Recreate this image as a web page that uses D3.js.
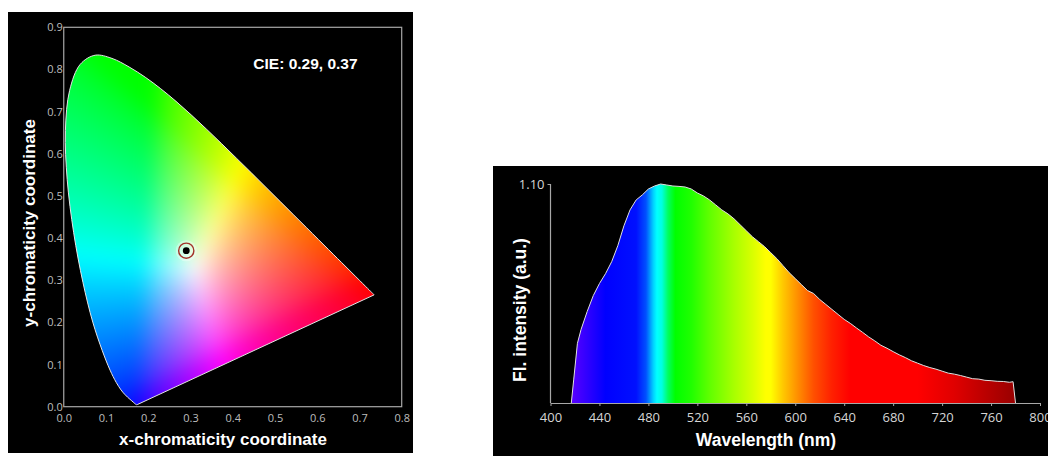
<!DOCTYPE html>
<html>
<head>
<meta charset="utf-8">
<script src="https://cdn.jsdelivr.net/npm/d3@7"></script>
<style>
  html, body { margin: 0; padding: 0; background: #ffffff; }
  svg { display: block; }
</style>
</head>
<body>
<svg id="fig" width="1048" height="456"></svg>
<script>
// ---------- CIE 1931 chromaticity diagram data ----------
// Spectral locus (2° observer), 380–700 nm in 5 nm steps
const locusNm = [380,385,390,395,400,405,410,415,420,425,430,435,440,445,450,455,460,465,470,475,
  480,485,490,495,500,505,510,515,520,525,530,535,540,545,550,555,560,565,570,575,580,585,590,595,
  600,605,610,615,620,625,630,635,640,645,650,655,660,665,670,675,680,685,690,695,700];
const locusX = [0.1741,0.1740,0.1738,0.1736,0.1733,0.1730,0.1726,0.1721,0.1714,0.1703,0.1689,0.1669,
  0.1644,0.1611,0.1566,0.1510,0.1440,0.1355,0.1241,0.1096,0.0913,0.0687,0.0454,0.0235,0.0082,0.0039,
  0.0139,0.0389,0.0743,0.1142,0.1547,0.1929,0.2296,0.2658,0.3016,0.3373,0.3731,0.4087,0.4441,0.4788,
  0.5125,0.5448,0.5752,0.6029,0.6270,0.6482,0.6658,0.6801,0.6915,0.7006,0.7079,0.7140,0.7190,0.7230,
  0.7260,0.7283,0.7300,0.7311,0.7320,0.7327,0.7334,0.7340,0.7344,0.7346,0.7347];
const locusY = [0.0050,0.0050,0.0049,0.0049,0.0048,0.0048,0.0048,0.0048,0.0051,0.0058,0.0069,0.0086,
  0.0109,0.0138,0.0177,0.0227,0.0297,0.0399,0.0578,0.0868,0.1327,0.2007,0.2950,0.4127,0.5384,0.6548,
  0.7502,0.8120,0.8338,0.8262,0.8059,0.7816,0.7543,0.7243,0.6923,0.6589,0.6245,0.5896,0.5547,0.5202,
  0.4866,0.4544,0.4242,0.3965,0.3725,0.3514,0.3340,0.3197,0.3083,0.2993,0.2920,0.2859,0.2809,0.2770,
  0.2740,0.2717,0.2700,0.2689,0.2680,0.2673,0.2666,0.2660,0.2656,0.2654,0.2653];
const cieXTicks = [0.0,0.1,0.2,0.3,0.4,0.5,0.6,0.7,0.8];
const cieYTicks = [0.0,0.1,0.2,0.3,0.4,0.5,0.6,0.7,0.8,0.9];
const sampleCIE = [0.29, 0.37];

// display primaries and white used to colour the diagram (x, y)
const primaryR = [0.70, 0.29];
const primaryG = [0.21, 0.71];
const primaryB = [0.17, 0.012];
const whitePoint = [0.3127, 0.3290];
const displayGamma = 1.6;

// ---------- Emission spectrum data ----------
const wavelengths = [417,419,422,425,430,435,440,445,450,455,460,465,470,475,480,485,490,495,500,505,
  510,515,520,525,530,535,540,545,550,555,560,565,570,575,580,585,590,595,600,605,610,615,620,625,
  630,635,640,645,650,655,660,665,670,675,680,685,690,695,700,705,710,715,720,725,730,735,740,745,
  750,755,760,765,770,775,778,780];
const intensity = [0,0.12,0.30,0.37,0.46,0.54,0.60,0.65,0.71,0.79,0.89,0.97,1.02,1.045,1.075,1.09,
  1.10,1.095,1.09,1.088,1.085,1.075,1.055,1.04,1.02,0.995,0.97,0.95,0.925,0.895,0.865,0.835,0.81,
  0.785,0.755,0.725,0.69,0.655,0.625,0.595,0.565,0.55,0.52,0.495,0.47,0.445,0.42,0.40,0.377,0.355,
  0.332,0.312,0.29,0.275,0.258,0.242,0.228,0.212,0.200,0.188,0.178,0.170,0.160,0.150,0.145,0.138,
  0.130,0.122,0.120,0.114,0.112,0.109,0.108,0.104,0.107,0];
const wlTicks = [400,440,480,520,560,600,640,680,720,760,800];
const intensityTicks = [1.10];
const spectrumNm = [417,430,445,470,478,484,487,491,496,502,515,530,550,565,576,580,590,600,615,630,645,700,730,760,780];
const spectrumColors = ["#5a00ff","#3000ff","#0000ff","#0010ff","#0050ff","#00d0ff","#00ffff","#00ffe0",
  "#00ff60","#00ff00","#20ff00","#60ff00","#a8ff00","#d8ff00","#ffff00","#ffff00","#ffc800","#ff9800",
  "#ff5000","#ff2000","#ff0000","#ff0000","#e00000","#b40000","#980000"];

const svg = d3.select("#fig");
const defs = svg.append("defs");
const tickFont = "'Open Sans', 'Noto Sans', sans-serif";
const titleFont = "'Liberation Sans', Arial, sans-serif";

// ---------- small 3x3 helpers ----------
function inv3(m) {
  const [a, b, c] = m[0], [d, e, f] = m[1], [g, h, i] = m[2];
  const A = e * i - f * h, B = -(d * i - f * g), C = d * h - e * g;
  const det = a * A + b * B + c * C;
  return [
    [A / det, -(b * i - c * h) / det, (b * f - c * e) / det],
    [B / det, (a * i - c * g) / det, -(a * f - c * d) / det],
    [C / det, -(a * h - b * g) / det, (a * e - b * d) / det]
  ];
}
const mul3v = (m, v) => m.map(r => r[0] * v[0] + r[1] * v[1] + r[2] * v[2]);
const xyzOf = ([x, y]) => [x / y, 1, (1 - x - y) / y];

// RGB -> XYZ matrix from the primaries, scaled so RGB (1,1,1) is the white point
const P = [primaryR, primaryG, primaryB].map(xyzOf);
const Pm = [[P[0][0], P[1][0], P[2][0]], [P[0][1], P[1][1], P[2][1]], [P[0][2], P[1][2], P[2][2]]];
const S = mul3v(inv3(Pm), xyzOf(whitePoint));
const rgb2xyz = Pm.map(r => r.map((v, k) => v * S[k]));
const xyz2rgb = inv3(rgb2xyz);

// ================= Left panel: chromaticity diagram =================
svg.append("rect").attr("x", 8).attr("y", 12).attr("width", 405).attr("height", 441).attr("fill", "#000");

const cx = d3.scaleLinear().domain([0, 0.8]).range([63.75, 401.7]);
const cy = d3.scaleLinear().domain([0, 0.9]).range([406.7, 27.3]);

const locus = locusX.map((x, i) => [x, locusY[i]]);
const locusPath = d3.line().x(d => cx(d[0])).y(d => cy(d[1])).curve(d3.curveCatmullRom)(locus) + "Z";

// colour field: chromaticity -> XYZ (Y = 1) -> linear RGB, brightest component set to 1
function chromaToRGB(x, y) {
  if (y <= 0.012) y = 0.012;
  const XYZ = [x / y, 1, Math.max(0, 1 - x - y) / y];
  let [r, g, b] = mul3v(xyz2rgb, XYZ).map(c => Math.max(0, c));
  const m = Math.max(r, g, b) || 1;
  const enc = c => Math.pow(c / m, 1 / displayGamma);
  return [enc(r) * 255, enc(g) * 255, enc(b) * 255];
}

const pad = 30;
const px0 = Math.floor(cx(0)), px1 = Math.ceil(cx(0.8));
const py0 = Math.floor(cy(0.9)), py1 = Math.ceil(cy(0));
const cw = px1 - px0, ch = py1 - py0;
const W = cw + 2 * pad, H = ch + 2 * pad;
const raw = document.createElement("canvas");
raw.width = W; raw.height = H;
const rctx = raw.getContext("2d");
const img = rctx.createImageData(W, H);
for (let j = 0; j < H; j++) {
  const yv = Math.max(0, Math.min(0.9, cy.invert(py0 - pad + j + 0.5)));
  for (let i = 0; i < W; i++) {
    const xv = Math.max(0, Math.min(0.8, cx.invert(px0 - pad + i + 0.5)));
    const [r, g, b] = chromaToRGB(xv, yv);
    const k = (j * W + i) * 4;
    img.data[k] = r; img.data[k + 1] = g; img.data[k + 2] = b; img.data[k + 3] = 255;
  }
}
rctx.putImageData(img, 0, 0);

// soften the transitions between hue sectors
const soft = document.createElement("canvas");
soft.width = cw; soft.height = ch;
const sctx = soft.getContext("2d");
sctx.filter = "blur(9px)";
sctx.drawImage(raw, -pad, -pad);

defs.append("clipPath").attr("id", "gamut").append("path").attr("d", locusPath);

svg.append("image")
  .attr("x", px0).attr("y", py0).attr("width", cw).attr("height", ch)
  .attr("preserveAspectRatio", "none")
  .attr("href", soft.toDataURL())
  .attr("clip-path", "url(#gamut)");

svg.append("path").attr("d", locusPath)
  .attr("fill", "none").attr("stroke", "#e6e6e6").attr("stroke-width", 1);

// frame
svg.append("rect")
  .attr("x", cx(0)).attr("y", cy(0.9))
  .attr("width", cx(0.8) - cx(0)).attr("height", cy(0) - cy(0.9))
  .attr("fill", "none").attr("stroke", "#a8a8a8").attr("stroke-width", 1.2);

const fmt1 = d3.format(".1f");
const xAxisL = svg.append("g").attr("transform", `translate(0,${cy(0)})`)
  .call(d3.axisBottom(cx).tickValues(cieXTicks).tickFormat(fmt1).tickSize(0).tickPadding(8));
const yAxisL = svg.append("g").attr("transform", `translate(${cx(0)},0)`)
  .call(d3.axisLeft(cy).tickValues(cieYTicks).tickFormat(fmt1).tickSize(0).tickPadding(1));
[xAxisL, yAxisL].forEach(g => {
  g.select(".domain").remove();
  g.selectAll("text").attr("fill", "#bdbdbd").style("font-family", tickFont).style("font-size", "11px");
});

// sample point
const mx = cx(sampleCIE[0]), my = cy(sampleCIE[1]);
svg.append("circle").attr("cx", mx).attr("cy", my).attr("r", 10.5).attr("fill", "#ffffff").attr("opacity", 0.35);
svg.append("circle").attr("cx", mx).attr("cy", my).attr("r", 7.6)
  .attr("fill", "none").attr("stroke", "#a3342a").attr("stroke-width", 1.4);
svg.append("circle").attr("cx", mx).attr("cy", my).attr("r", 3.4).attr("fill", "#000");

svg.append("text").attr("x", 305.5).attr("y", 69)
  .attr("text-anchor", "middle").attr("fill", "#fff")
  .style("font-family", titleFont).style("font-weight", "bold").style("font-size", "15.5px")
  .text(`CIE: ${sampleCIE[0].toFixed(2)}, ${sampleCIE[1].toFixed(2)}`);

svg.append("text").attr("x", 223).attr("y", 445)
  .attr("text-anchor", "middle").attr("fill", "#fff")
  .style("font-family", titleFont).style("font-weight", "bold").style("font-size", "17px")
  .text("x-chromaticity coordinate");

svg.append("text").attr("transform", "translate(34.5,223) rotate(-90)")
  .attr("text-anchor", "middle").attr("fill", "#fff")
  .style("font-family", titleFont).style("font-weight", "bold").style("font-size", "17px")
  .text("y-chromaticity coordinate");

// ================= Right panel: emission spectrum =================
svg.append("rect").attr("x", 493).attr("y", 166).attr("width", 555).attr("height", 290).attr("fill", "#000");

const sx = d3.scaleLinear().domain([400, 800]).range([550.5, 1040]);
const sy = d3.scaleLinear().domain([0, 1.10]).range([403, 184]);

const grad = defs.append("linearGradient").attr("id", "spectrum")
  .attr("gradientUnits", "userSpaceOnUse")
  .attr("x1", sx(spectrumNm[0])).attr("x2", sx(spectrumNm[spectrumNm.length - 1]))
  .attr("y1", 0).attr("y2", 0);
const g0 = sx(spectrumNm[0]), g1 = sx(spectrumNm[spectrumNm.length - 1]);
grad.selectAll("stop").data(spectrumNm).join("stop")
  .attr("offset", d => (sx(d) - g0) / (g1 - g0))
  .attr("stop-color", (d, i) => spectrumColors[i]);

const spec = wavelengths.map((w, i) => ({ w, v: intensity[i] }));
svg.append("path").datum(spec)
  .attr("d", d3.area().x(d => sx(d.w)).y0(sy(0)).y1(d => sy(d.v)))
  .attr("fill", "url(#spectrum)");
svg.append("path").datum(spec)
  .attr("d", d3.line().x(d => sx(d.w)).y(d => sy(d.v)))
  .attr("fill", "none").attr("stroke", "#e0e0e0").attr("stroke-width", 1);

const xAxisR = svg.append("g").attr("transform", `translate(0,${sy(0)})`)
  .call(d3.axisBottom(sx).tickValues(wlTicks).tickSize(3).tickSizeOuter(0).tickPadding(7));
const yAxisR = svg.append("g").attr("transform", `translate(${sx(400)},0)`)
  .call(d3.axisLeft(sy).tickValues(intensityTicks).tickFormat(d3.format(".2f")).tickSize(3).tickSizeOuter(0).tickPadding(3));
[xAxisR, yAxisR].forEach(g => {
  g.select(".domain").attr("stroke", "#a8a8a8").attr("stroke-width", 1.2);
  g.selectAll(".tick line").attr("stroke", "#a8a8a8");
  g.selectAll("text").attr("fill", "#d6d6d6").style("font-family", tickFont).style("font-size", "13px");
});
yAxisR.select(".domain").attr("d", `M0,${sy(0)}V${sy(1.10)}`);

svg.append("text").attr("x", 766).attr("y", 446)
  .attr("text-anchor", "middle").attr("fill", "#fff")
  .style("font-family", titleFont).style("font-weight", "bold").style("font-size", "17.5px")
  .text("Wavelength (nm)");

svg.append("text").attr("transform", "translate(525.5,310) rotate(-90)")
  .attr("text-anchor", "middle").attr("fill", "#fff")
  .style("font-family", titleFont).style("font-weight", "bold").style("font-size", "17.5px")
  .text("Fl. intensity (a.u.)");
</script>
</body>
</html>
